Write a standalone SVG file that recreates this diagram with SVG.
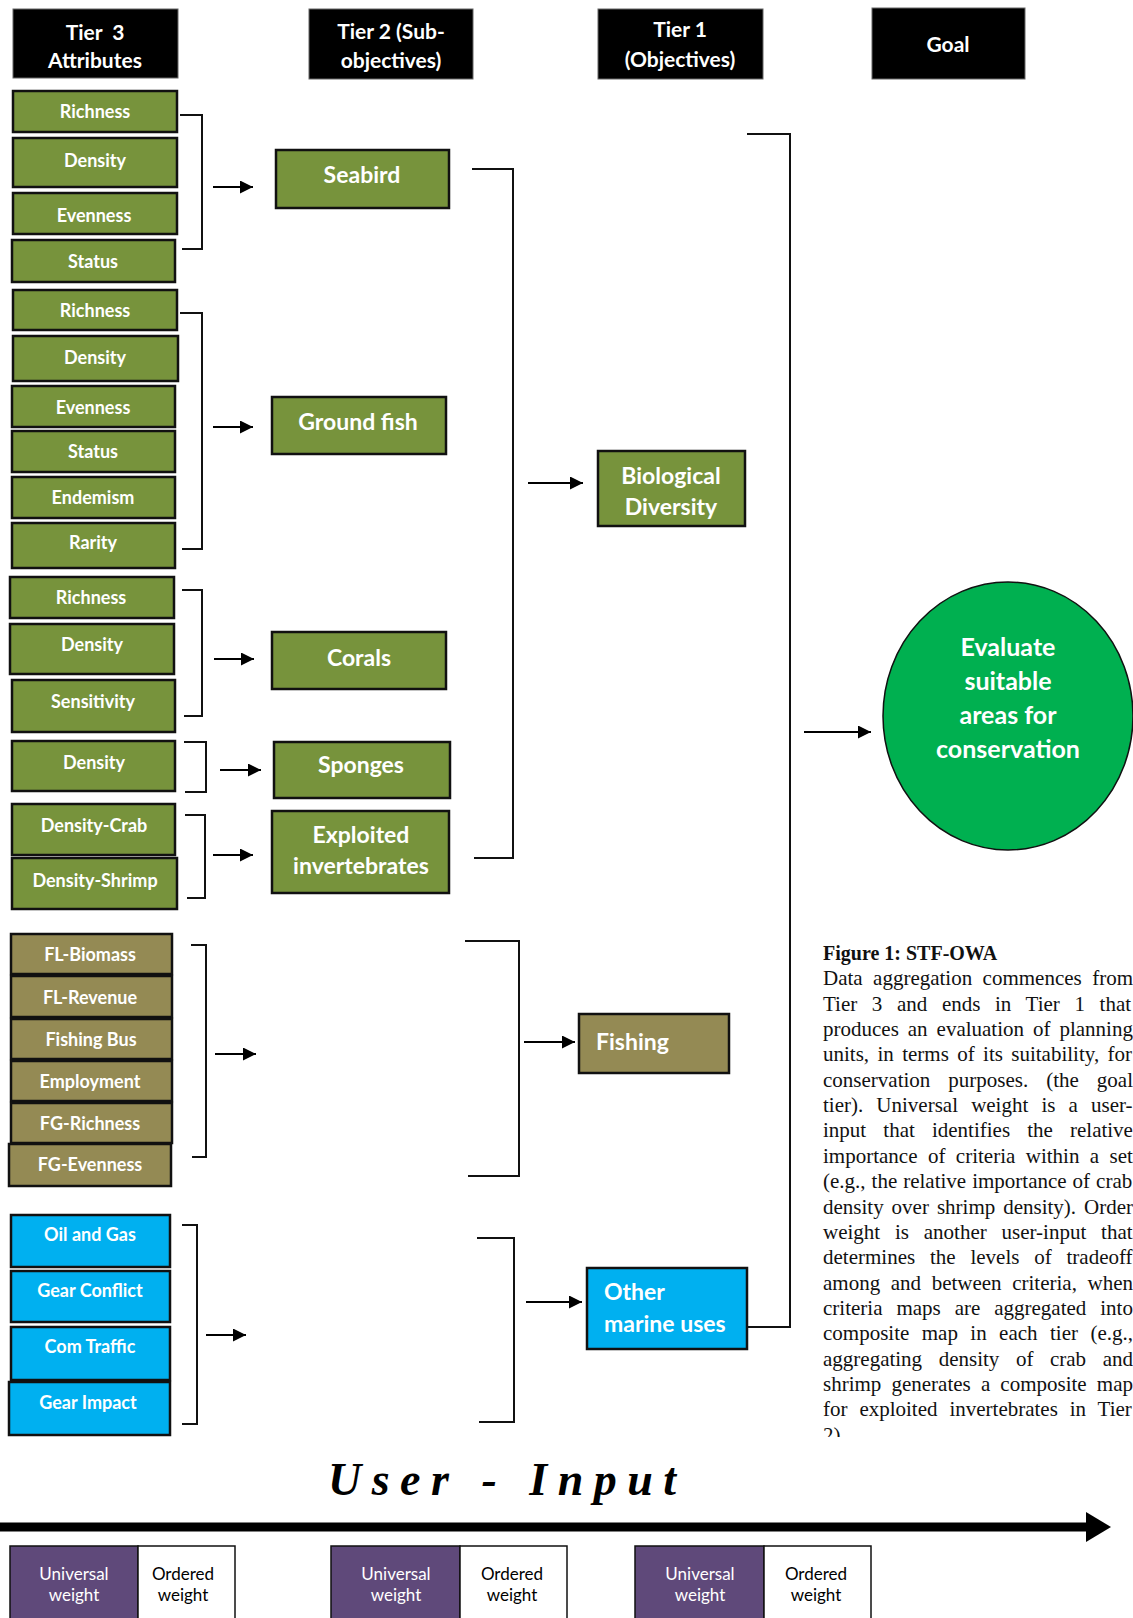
<svg xmlns="http://www.w3.org/2000/svg" width="1133" height="1618" viewBox="0 0 1133 1618">
  <style>
    .hdr { fill: #000; stroke: #666; stroke-width: 1; }
    .hdr-t { font-family: Lato, "Liberation Sans", sans-serif; font-weight: bold; font-size: 21px; fill: #fff; text-anchor: middle; }
    .grn { fill: #77933C; stroke: #111; stroke-width: 2.5; }
    .tan { fill: #948A54; stroke: #111; stroke-width: 2.5; }
    .blu { fill: #00B0F0; stroke: #111; stroke-width: 2.5; }
    .att { font-family: Lato, "Liberation Sans", sans-serif; font-weight: bold; font-size: 18px; fill: #fff; text-anchor: middle; }
    .sub { font-family: Lato, "Liberation Sans", sans-serif; font-weight: bold; font-size: 23px; fill: #fff; text-anchor: middle; }
    .subl { font-family: Lato, "Liberation Sans", sans-serif; font-weight: bold; font-size: 23px; fill: #fff; }
    .goal-t { font-family: Lato, "Liberation Sans", sans-serif; font-weight: bold; font-size: 25px; fill: #fff; text-anchor: middle; }
    .link { fill: none; stroke: #111; stroke-width: 2; }
    .arrow { fill: none; stroke: #000; stroke-width: 2; marker-end: url(#head); }
    .cap { font-family: "Liberation Serif", "Times New Roman", serif; font-size: 21px; fill: #111; }
    .capb { font-family: "Liberation Serif", "Times New Roman", serif; font-size: 20px; font-weight: bold; fill: #111; }
    .uw { fill: #5F497A; stroke: #111; stroke-width: 1.5; }
    .ow { fill: #fff; stroke: #111; stroke-width: 1.5; }
    .wt { font-family: Lato, "Liberation Sans", sans-serif; font-size: 17px; text-anchor: middle; }
  </style>
  <defs>
    <marker id="head" markerUnits="userSpaceOnUse" markerWidth="14" markerHeight="14" refX="13" refY="6.5" orient="auto">
      <path d="M0,0 L13,6.5 L0,13 Z" fill="#000"/>
    </marker>
    <clipPath id="capclip">
      <rect x="800" y="900" width="333" height="537"/>
    </clipPath>
  </defs>

  <rect width="1133" height="1618" fill="#fff"/>

  <!-- Column headers -->
  <g id="hdr-tier3">
    <rect class="hdr" x="13" y="9" width="165" height="69"/>
    <text class="hdr-t" x="95" y="40" word-spacing="5">Tier 3</text>
    <text class="hdr-t" x="95" y="68">Attributes</text>
  </g>
  <g id="hdr-tier2">
    <rect class="hdr" x="309" y="9" width="164" height="70"/>
    <text class="hdr-t" x="391" y="39">Tier 2 (Sub-</text>
    <text class="hdr-t" x="391" y="68">objectives)</text>
  </g>
  <g id="hdr-tier1">
    <rect class="hdr" x="598" y="9" width="165" height="70"/>
    <text class="hdr-t" x="680" y="37">Tier 1</text>
    <text class="hdr-t" x="680" y="67">(Objectives)</text>
  </g>
  <g id="hdr-goal">
    <rect class="hdr" x="872" y="8" width="153" height="71"/>
    <text class="hdr-t" x="948" y="52">Goal</text>
  </g>

  <!-- Tier 3 attributes: seabird -->
  <g id="sb-richness"><rect class="grn" x="13" y="91" width="164" height="41"/><text class="att" x="95" y="118">Richness</text></g>
  <g id="sb-density"><rect class="grn" x="13" y="138" width="164" height="49"/><text class="att" x="95" y="167">Density</text></g>
  <g id="sb-evenness"><rect class="grn" x="13" y="193" width="164" height="41"/><text class="att" x="94" y="222">Evenness</text></g>
  <g id="sb-status"><rect class="grn" x="12" y="240" width="163" height="42"/><text class="att" x="93" y="268">Status</text></g>

  <!-- Tier 3 attributes: ground fish -->
  <g id="gf-richness"><rect class="grn" x="13" y="290" width="164" height="40"/><text class="att" x="95" y="317">Richness</text></g>
  <g id="gf-density"><rect class="grn" x="13" y="336" width="165" height="45"/><text class="att" x="95" y="364">Density</text></g>
  <g id="gf-evenness"><rect class="grn" x="12" y="386" width="163" height="41"/><text class="att" x="93" y="414">Evenness</text></g>
  <g id="gf-status"><rect class="grn" x="12" y="431" width="163" height="41"/><text class="att" x="93" y="458">Status</text></g>
  <g id="gf-endemism"><rect class="grn" x="12" y="477" width="163" height="41"/><text class="att" x="93" y="504">Endemism</text></g>
  <g id="gf-rarity"><rect class="grn" x="12" y="523" width="163" height="45"/><text class="att" x="93" y="549">Rarity</text></g>

  <!-- Tier 3 attributes: corals -->
  <g id="co-richness"><rect class="grn" x="10" y="577" width="164" height="41"/><text class="att" x="91" y="604">Richness</text></g>
  <g id="co-density"><rect class="grn" x="10" y="624" width="164" height="50"/><text class="att" x="92" y="651">Density</text></g>
  <g id="co-sensitivity"><rect class="grn" x="12" y="680" width="163" height="52"/><text class="att" x="93" y="708">Sensitivity</text></g>

  <!-- Tier 3 attributes: sponges -->
  <g id="sp-density"><rect class="grn" x="12" y="741" width="163" height="50"/><text class="att" x="94" y="769">Density</text></g>

  <!-- Tier 3 attributes: exploited invertebrates -->
  <g id="ei-crab"><rect class="grn" x="12" y="804" width="163" height="51"/><text class="att" x="94" y="832">Density-Crab</text></g>
  <g id="ei-shrimp"><rect class="grn" x="12" y="858" width="165" height="51"/><text class="att" x="95" y="887">Density-Shrimp</text></g>

  <!-- Tier 3 attributes: fishing -->
  <g id="fi-biomass"><rect class="tan" x="11" y="934" width="161" height="40"/><text class="att" x="90" y="961">FL-Biomass</text></g>
  <g id="fi-revenue"><rect class="tan" x="11" y="976" width="161" height="41"/><text class="att" x="90" y="1004">FL-Revenue</text></g>
  <g id="fi-bus"><rect class="tan" x="11" y="1019" width="161" height="40"/><text class="att" x="91" y="1046">Fishing Bus</text></g>
  <g id="fi-employment"><rect class="tan" x="11" y="1061" width="161" height="40"/><text class="att" x="90" y="1088">Employment</text></g>
  <g id="fi-fgrichness"><rect class="tan" x="11" y="1103" width="161" height="40"/><text class="att" x="90" y="1130">FG-Richness</text></g>
  <g id="fi-fgevenness"><rect class="tan" x="9" y="1144" width="162" height="42"/><text class="att" x="90" y="1171">FG-Evenness</text></g>

  <!-- Tier 3 attributes: other marine uses -->
  <g id="om-oilgas"><rect class="blu" x="11" y="1215" width="159" height="52"/><text class="att" x="90" y="1241">Oil and Gas</text></g>
  <g id="om-gearconflict"><rect class="blu" x="11" y="1271" width="159" height="51"/><text class="att" x="90" y="1297">Gear Conflict</text></g>
  <g id="om-comtraffic"><rect class="blu" x="11" y="1327" width="159" height="53"/><text class="att" x="90" y="1353">Com Traffic</text></g>
  <g id="om-gearimpact"><rect class="blu" x="9" y="1382" width="161" height="53"/><text class="att" x="88" y="1409">Gear Impact</text></g>

  <!-- Tier 2 sub-objectives -->
  <g id="t2-seabird"><rect class="grn" x="276" y="150" width="173" height="58"/><text class="sub" x="362" y="183">Seabird</text></g>
  <g id="t2-groundfish"><rect class="grn" x="272" y="397" width="174" height="57"/><text class="sub" x="358" y="430">Ground fish</text></g>
  <g id="t2-corals"><rect class="grn" x="272" y="632" width="174" height="57"/><text class="sub" x="359" y="666">Corals</text></g>
  <g id="t2-sponges"><rect class="grn" x="274" y="742" width="176" height="56"/><text class="sub" x="361" y="773">Sponges</text></g>
  <g id="t2-exploited">
    <rect class="grn" x="272" y="811" width="177" height="82"/>
    <text class="sub" x="361" y="843">Exploited</text>
    <text class="sub" x="361" y="874">invertebrates</text>
  </g>

  <!-- Tier 1 objectives -->
  <g id="t1-biodiversity">
    <rect class="grn" x="598" y="451" width="147" height="75"/>
    <text class="sub" x="671" y="484">Biological</text>
    <text class="sub" x="671" y="515">Diversity</text>
  </g>
  <g id="t1-fishing">
    <rect class="tan" x="579" y="1014" width="150" height="59"/>
    <text class="subl" x="596" y="1050">Fishing</text>
  </g>
  <g id="t1-othermarine">
    <rect class="blu" x="587" y="1268" width="160" height="81"/>
    <text class="subl" x="604" y="1300">Other</text>
    <text class="subl" x="604" y="1332">marine uses</text>
  </g>

  <!-- Goal -->
  <g id="goal">
    <ellipse cx="1008" cy="716" rx="125" ry="134" fill="#00B050" stroke="#111" stroke-width="1.5"/>
    <text class="goal-t" x="1008" y="656">Evaluate</text>
    <text class="goal-t" x="1008" y="690">suitable</text>
    <text class="goal-t" x="1008" y="724">areas for</text>
    <text class="goal-t" x="1008" y="758">conservation</text>
  </g>

  <!-- Brackets and arrows between tiers -->
  <g id="connectors">
    <path class="link" d="M180,115 H202 V249 H182"/>
    <line class="arrow" x1="213" y1="187" x2="253" y2="187"/>
    <path class="link" d="M180,313 H202 V549 H182"/>
    <line class="arrow" x1="213" y1="427" x2="253" y2="427"/>
    <path class="link" d="M182,590 H202 V716 H184"/>
    <line class="arrow" x1="214" y1="659" x2="254" y2="659"/>
    <path class="link" d="M184,742 H206 V792 H185"/>
    <line class="arrow" x1="220" y1="770" x2="261" y2="770"/>
    <path class="link" d="M185,815 H205 V898 H187"/>
    <line class="arrow" x1="213" y1="855" x2="253" y2="855"/>
    <path class="link" d="M191,945 H206 V1157 H192"/>
    <line class="arrow" x1="215" y1="1054" x2="256" y2="1054"/>
    <path class="link" d="M182,1225 H197 V1424 H182"/>
    <line class="arrow" x1="206" y1="1335" x2="246" y2="1335"/>

    <path class="link" d="M472,169 H513 V858 H474"/>
    <line class="arrow" x1="528" y1="483" x2="583" y2="483"/>
    <path class="link" d="M465,941 H519 V1176 H468"/>
    <line class="arrow" x1="524" y1="1042" x2="575" y2="1042"/>
    <path class="link" d="M477,1238 H514 V1422 H479"/>
    <line class="arrow" x1="526" y1="1302" x2="582" y2="1302"/>

    <path class="link" d="M747,134 H790 V1327 H747"/>
    <line class="arrow" x1="804" y1="732" x2="871" y2="732"/>
  </g>

  <!-- Caption -->
  <g id="caption" clip-path="url(#capclip)">
    <text class="capb" x="823" y="960">Figure 1: STF-OWA</text>
    <text class="cap" x="823" y="985.3" word-spacing="5.17">Data aggregation commences from</text>
    <text class="cap" x="823" y="1010.7" word-spacing="9.37">Tier 3 and ends in Tier 1 that</text>
    <text class="cap" x="823" y="1036" word-spacing="3.72">produces an evaluation of planning</text>
    <text class="cap" x="823" y="1061.4" word-spacing="3.12">units, in terms of its suitability, for</text>
    <text class="cap" x="823" y="1086.7" word-spacing="12.74">conservation purposes. (the goal</text>
    <text class="cap" x="823" y="1112.1" word-spacing="7.88">tier). Universal weight is a user-</text>
    <text class="cap" x="823" y="1137.4" word-spacing="11.88">input that identifies the relative</text>
    <text class="cap" x="823" y="1162.8" word-spacing="5.19">importance of criteria within a set</text>
    <text class="cap" x="823" y="1188.1" word-spacing="0.74">(e.g., the relative importance of crab</text>
    <text class="cap" x="823" y="1213.5" word-spacing="2.7">density over shrimp density). Order</text>
    <text class="cap" x="823" y="1238.8" word-spacing="9.55">weight is another user-input that</text>
    <text class="cap" x="823" y="1264.2" word-spacing="9.56">determines the levels of tradeoff</text>
    <text class="cap" x="823" y="1289.5" word-spacing="5.33">among and between criteria, when</text>
    <text class="cap" x="823" y="1314.9" word-spacing="8.69">criteria maps are aggregated into</text>
    <text class="cap" x="823" y="1340.2" word-spacing="7.18">composite map in each tier (e.g.,</text>
    <text class="cap" x="823" y="1365.6" word-spacing="11.31">aggregating density of crab and</text>
    <text class="cap" x="823" y="1390.9" word-spacing="4.89">shrimp generates a composite map</text>
    <text class="cap" x="823" y="1416.3" word-spacing="6.64">for exploited invertebrates in Tier</text>
    <text class="cap" x="823" y="1441.6">2)</text>
  </g>

  <!-- User input timeline -->
  <g id="user-input">
    <text x="328" y="1495" font-family="'Liberation Serif', serif" font-style="italic" font-weight="bold" font-size="46" letter-spacing="10.5" fill="#000">User - Input</text>
    <line x1="0" y1="1527" x2="1090" y2="1527" stroke="#000" stroke-width="9"/>
    <polygon points="1086,1512 1111,1527 1086,1542" fill="#000"/>
  </g>

  <g id="weights-1">
    <rect class="uw" x="10" y="1546" width="128" height="80"/>
    <rect class="ow" x="138" y="1546" width="97" height="80"/>
    <text class="wt" x="74" y="1580" fill="#fff">Universal</text>
    <text class="wt" x="74" y="1601" fill="#fff">weight</text>
    <text class="wt" x="183" y="1580" fill="#000">Ordered</text>
    <text class="wt" x="183" y="1601" fill="#000">weight</text>
  </g>
  <g id="weights-2">
    <rect class="uw" x="331" y="1546" width="129" height="80"/>
    <rect class="ow" x="460" y="1546" width="107" height="80"/>
    <text class="wt" x="396" y="1580" fill="#fff">Universal</text>
    <text class="wt" x="396" y="1601" fill="#fff">weight</text>
    <text class="wt" x="512" y="1580" fill="#000">Ordered</text>
    <text class="wt" x="512" y="1601" fill="#000">weight</text>
  </g>
  <g id="weights-3">
    <rect class="uw" x="635" y="1546" width="129" height="80"/>
    <rect class="ow" x="764" y="1546" width="107" height="80"/>
    <text class="wt" x="700" y="1580" fill="#fff">Universal</text>
    <text class="wt" x="700" y="1601" fill="#fff">weight</text>
    <text class="wt" x="816" y="1580" fill="#000">Ordered</text>
    <text class="wt" x="816" y="1601" fill="#000">weight</text>
  </g>
</svg>
